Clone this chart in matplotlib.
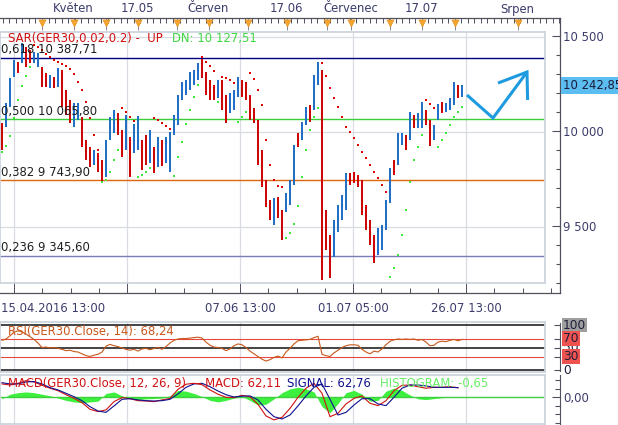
import numpy as np
import matplotlib
matplotlib.use("Agg")
import matplotlib.pyplot as plt
from matplotlib.transforms import blended_transform_factory as btf
from matplotlib.ticker import FixedLocator, NullFormatter

# ---------------- data ----------------
high = [10045, 10150, 10282, 10376, 10366, 10466, 10445, 10429, 10418, 10413,
        10339, 10308, 10297, 10287, 10334, 10324, 10218, 10166, 10150, 10150,
        10076, 9955, 9918, 9903, 9887, 9850, 9955, 10076, 10113, 10097,
        10008, 10087, 9971, 10040, 10082, 9955, 9982, 10008, 9918, 9971,
        9955, 9971, 9997, 10087, 10192, 10260, 10271, 10313, 10324, 10360,
        10382, 10313, 10271, 10245, 10271, 10271, 10192, 10203, 10218, 10287,
        10271, 10260, 10192, 10124, 10061, 9903, 9745, 9639, 9650, 9655,
        9587, 9676, 9745, 9929, 9992, 10050, 10129, 10139, 10297, 10366,
        10324, 9587, 9455, 9534, 9613, 9666, 9782, 9782, 9787, 9771,
        9745, 9613, 9534, 9455, 9492, 9508, 9639, 9808, 9850, 9992,
        9992, 9982, 10103, 10087, 10097, 10155, 10113, 10061, 10034, 10145,
        10155, 10150, 10176, 10260, 10245, 10245]
low = [9903, 10024, 10129, 10287, 10308, 10360, 10339, 10360, 10360, 10339,
       10234, 10234, 10229, 10229, 10234, 10129, 10087, 10045, 10024, 10061,
       9918, 9850, 9813, 9824, 9787, 9739, 9760, 9955, 9992, 9982,
       9866, 9903, 9760, 9887, 9903, 9797, 9824, 9834, 9782, 9813,
       9818, 9834, 9787, 9982, 10034, 10166, 10192, 10218, 10245, 10271,
       10282, 10192, 10166, 10166, 10176, 10113, 10045, 10097, 10113, 10182,
       10182, 10166, 10061, 10045, 9824, 9708, 9603, 9534, 9508, 9545,
       9429, 9576, 9613, 9718, 9918, 9955, 10034, 10050, 10113, 10245,
       9218, 9376, 9229, 9339, 9471, 9534, 9587, 9718, 9729, 9708,
       9561, 9482, 9403, 9308, 9350, 9376, 9482, 9624, 9771, 9824,
       9929, 9903, 9955, 10018, 10018, 10018, 10034, 9924, 9955, 10061,
       10097, 10103, 10113, 10139, 10176, 10182]
direction = ("DUUUDUDDUU" "DDUDUDDDUU" "DDDUDDUUUD" "DUDUUDDUDU"
             "DUUUUUUUUU" "DDDDUDDUUU" "DDDDDDDDUD" "DUUUDUUDUU"
             "DDDUUUUDDD" "DDDDUUUUDU" "UDUDUUDDUU" "DUUUDU")
sar = [9892, 9924, 9976, 10071, 10166, 10239, 10292, 10339, 10455, 10445,
       10429, 10408, 10392, 10376, 10366, 10355, 10345, 10329, 10303, 10260,
       10218, 10155, 10071, 9982, 9903, 9734, 9745, 9787, 9850, 9903,
       10124, 10103, 10076, 10055, 9760, 9771, 9787, 9808, 10071, 10061,
       10045, 10029, 10013, 9766, 9866, 9945, 10040, 10113, 10182, 10245,
       10392, 10366, 10345, 10318, 10155, 10287, 10282, 10271, 10255, 10050,
       10076, 10103, 10308, 10276, 10218, 10139, 9955, 9824, 9745, 9713,
       9708, 9439, 9466, 9513, 9608, 9760, 9903, 10008, 10076, 10124,
       10360, 10292, 10229, 10176, 10129, 10076, 10024, 9997, 9966, 9929,
       9892, 9860, 9824, 9787, 9755, 9718, 9682, 9234, 9282, 9350,
       9455, 9587, 9734, 9850, 9918, 9982, 10166, 10145, 10124, 9918,
       9955, 9992, 10034, 10076, 10103, 10128]
rsi = [66, 69, 76, 84, 87, 85, 80, 74, 68, 60,
       50, 51, 49, 50, 48, 46, 43, 44, 41, 40,
       36, 32, 30, 33, 35, 40, 53, 57, 54, 52,
       49, 46, 44, 46, 42, 47, 48, 45, 48, 50,
       46, 52, 60, 66, 69, 70, 70, 71, 72, 73,
       71, 62, 55, 51, 50, 48, 43, 47, 54, 58,
       56, 50, 42, 36, 30, 24, 20, 23, 28, 31,
       27, 40, 48, 58, 65, 66, 67, 68, 72, 75,
       35, 32, 30, 38, 44, 50, 54, 56, 56, 55,
       46, 40, 36, 42, 40, 47, 56, 64, 67, 69,
       68, 69, 68, 69, 66, 68, 62, 54, 55, 62,
       64, 63, 66, 68, 65, 68]
macd = [87, 80, 91, 108, 100, 78, 59, 43, 17, -7,
        -35, -78, -93, -82, -28, -2, -9, -22, -24, -28,
        -17, -7, 52, 85, 91, 82, 48, 20, 0, -2,
        13, 4, -46, -121, -147, -130, -72, 0, 59, 91,
        26, -126, -104, -43, -7, 9, -39, -54, -22, 43,
        78, 80, 69, 59, 65, 65, 69, 62]
signal = [95, 87, 87, 100, 102, 87, 63, 48, 26, 4,
          -22, -61, -89, -98, -56, -13, -9, -17, -22, -24,
          -22, -13, 22, 65, 87, 91, 69, 41, 17, 2,
          7, 9, -17, -78, -126, -141, -115, -56, 9, 65,
          87, -13, -115, -98, -50, -9, -9, -43, -54, 0,
          59, 80, 80, 74, 65, 65, 65, 63]
histogram = [-10, 20, 30, 35, 30, 20, 10, -5, -20, -30,
             -35, -30, -25, 25, 35, 10, -10, -15, -10, -8,
             -5, 10, 45, 40, 25, 5, -20, -30, -20, -5,
             5, -20, -50, -45, -10, 30, 55, 65, 55, 35,
             -60, -100, -40, 30, 45, 20, -25, -20, 40, 60,
             45, 15, -10, -15, -8, -3, 2, 0]
last_price = 10242.85
fib_ratio = ["0,618", "0,500", "0,382", "0,236"]
fib_level = [10387.71, 10065.80, 9743.90, 9345.60]
price_ticks = [9500, 10000, 10500]
grid_pos = [3, 31.25, 59.5, 87.75, 116]
date_labels = ["15.04.2016 13:00", "07.06 13:00", "01.07 05:00", "26.07 13:00"]
date_pos = [3, 59.5, 87.75, 116]
month_labels = ["Květen", "17.05", "Červen", "17.06", "Červenec", "17.07", "Srpen"]
month_pos = [17.75, 33.75, 51.5, 71.0, 87.25, 104.75, 128.75]
week_marks = [10, 18, 26, 34, 43.75, 51.75, 61.5, 71.25, 81.25, 87.25, 97, 105, 113.25, 129]
arrow_x = [116.25, 122.75, 131.25]
arrow_y = [10192, 10071, 10313]
arrow_head_x = [124.0, 131.25, 131.4]
arrow_head_y = [10255, 10313, 10166]

# ---------------- layout helpers ----------------
W, H = 618, 425
fig = plt.figure(figsize=(W / 100, H / 100), dpi=100)
plt.rcParams['font.family'] = ['DejaVu Sans']
FS = 8.4
TXT = '#3c3c6c'
BORDER = '#cdd4dc'
GRID = '#d8dde3'
PPU = 95 / 500.0  # pixels per price unit in main panel


def add_px(x0, y0, x1, y1):
    return fig.add_axes([x0 / W, 1 - y1 / H, (x1 - x0) / W, (y1 - y0) / H])


def pxi(px):
    return (px - 2) / 4.0


def P(y):
    return 10000 + (131.5 - y) / PPU


def thou(v):
    return f"{int(round(v)):,}".replace(",", " ")


def dec2(v):
    return f"{v:,.2f}".replace(",", " ").replace(".", ",")


XL = (pxi(0), pxi(545))
idx = np.arange(len(high))

# ---------------- frame with rulers and price axis ----------------
axf = add_px(0, 18, 560, 293)
axf.patch.set_visible(False)
axf.set_xlim(pxi(0), pxi(560))
axf.set_ylim(P(293), P(18))
axf.spines['left'].set_visible(False)
for s in ['top', 'right', 'bottom']:
    axf.spines[s].set_color('#50505e')
    axf.spines[s].set_linewidth(0.9)
axf.set_xticks([])
axf.yaxis.tick_right()
axf.yaxis.set_major_locator(FixedLocator(price_ticks))
axf.yaxis.set_minor_locator(FixedLocator(list(range(9200, 10600, 100))))
axf.yaxis.set_minor_formatter(NullFormatter())
axf.set_yticklabels([thou(v) for v in price_ticks])
axf.tick_params(axis='y', which='major', direction='in', length=5.5, width=0.8,
                color='#50505e', labelsize=FS, labelcolor=TXT, pad=2.5)
axf.tick_params(axis='y', which='minor', direction='in', length=3, width=0.8, color='#50505e')
trf = btf(axf.transData, axf.transAxes)
fh = 275.0
day_ticks = np.arange(pxi(42) - 6 * 1.6375, pxi(560), 1.6375)
axf.vlines(day_ticks, 1 - 5 / fh, 1, transform=trf, color='#50505e', lw=0.7)
axf.vlines(week_marks, 1 - 12 / fh, 1, transform=trf, color='#8a8a96', lw=0.7)
axf.scatter(week_marks, [1 - 4.5 / fh] * len(week_marks), marker='v', s=26,
            color='#f5a531', edgecolors='#e08a10', linewidths=0.4, transform=trf,
            zorder=5, clip_on=False)
for lab, pos in zip(month_labels, month_pos):
    axf.text(pos, 1 + 9 / fh, lab, transform=trf, ha='center', va='center',
             fontsize=FS, color=TXT)
minor_b = np.arange(grid_pos[0], pxi(560), 7.0625)
axf.vlines(minor_b, 0, 5 / fh, transform=trf, color='#50505e', lw=0.7)
axf.vlines(grid_pos, 0, 11 / fh, transform=trf, color='#50505e', lw=0.7)
for k, (lab, pos) in enumerate(zip(date_labels, date_pos)):
    if k == 0:
        axf.text(pxi(1), -15 / fh, lab, transform=trf, ha='left', va='center',
                 fontsize=FS, color=TXT)
    else:
        axf.text(pos, -15 / fh, lab, transform=trf, ha='center', va='center',
                 fontsize=FS, color=TXT)
axf.annotate(dec2(last_price), xy=(1, last_price),
             xycoords=btf(axf.transAxes, axf.transData), xytext=(2.2, 0),
             textcoords='offset points', va='center', ha='left', fontsize=FS,
             color='#1a1a3a', annotation_clip=False,
             bbox=dict(boxstyle='square,pad=0.18', fc='#5bbdf0', ec='none'))

# ---------------- main price panel ----------------
ax = add_px(0, 32, 545, 283)
ax.set_xlim(XL)
ax.set_ylim(P(283), P(32))
ax.set_xticks([])
ax.set_yticks([])
for s in ax.spines.values():
    s.set_color(BORDER)
    s.set_linewidth(1.3)
for g in grid_pos:
    ax.axvline(g, color=GRID, lw=0.9, zorder=0)
for p in price_ticks:
    ax.axhline(p, color=GRID, lw=0.9, zorder=0)
fib_colors = ['#000080', '#3ccc3c', '#e0650f', '#7b7bb8']
for r, lvl, c in zip(fib_ratio, fib_level, fib_colors):
    ax.axhline(lvl, color=c, lw=1.0, zorder=2)
    ax.annotate(f"{r} {dec2(lvl)}", xy=(0, lvl),
                xycoords=btf(ax.transAxes, ax.transData), xytext=(0.8, 1.0),
                textcoords='offset points', fontsize=FS, color='#1e1e1e',
                va='bottom', ha='left', zorder=7)
bar_cols = ['#1c6cc4' if d == 'U' else '#cc0000' for d in direction]
ax.vlines(idx, low, high, colors=bar_cols, lw=1.4, zorder=3)
sar_a = np.array(sar, float)
mid = (np.array(high) + np.array(low)) / 2.0
above = sar_a > mid
ax.scatter(idx[above], sar_a[above], marker='s', s=3.0, c='#e00000', lw=0, zorder=4)
ax.scatter(idx[~above], sar_a[~above], marker='s', s=3.0, c='#3ee63e', lw=0, zorder=4)
ax.plot(arrow_x, arrow_y, color='#1e9be0', lw=2.2, solid_capstyle='butt',
        solid_joinstyle='miter', zorder=5)
ax.plot(arrow_head_x, arrow_head_y, color='#1e9be0', lw=2.2, solid_capstyle='butt',
        solid_joinstyle='miter', zorder=5)
ax.annotate("SAR(GER30,0.02,0.2) -  UP", xy=(0, 1), xycoords='axes fraction',
            xytext=(5.8, -4.6), textcoords='offset points', fontsize=FS,
            color='#d01010', va='center', ha='left', zorder=8)
ax.annotate("DN: " + dec2(10127.51), xy=(0, 1), xycoords='axes fraction',
            xytext=(123.8, -4.6), textcoords='offset points', fontsize=FS,
            color='#40d840', va='center', ha='left', zorder=8)

# ---------------- RSI panel ----------------
axr = add_px(0, 322, 545, 372)
axr.set_xlim(XL)
axr.set_ylim(-4.4, 106.7)
axr.set_xticks([])
axr.set_yticks([])
for s in axr.spines.values():
    s.set_color(BORDER)
    s.set_linewidth(1.3)
for g in grid_pos:
    axr.axvline(g, color=GRID, lw=0.9, zorder=0)
for lv in [100, 50, 0]:
    axr.axhline(lv, color='#111111', lw=1.1, zorder=1)
for lv in [70, 30]:
    axr.axhline(lv, color='#e8473f', lw=0.8, zorder=1)
axr.plot(idx, rsi, color='#c8581a', lw=0.8, zorder=3)
axr.annotate("RSI(GER30.Close, 14): 68,24", xy=(0, 1), xycoords='axes fraction',
             xytext=(5.8, -6.5), textcoords='offset points', fontsize=FS,
             color='#c8581a', va='center', ha='left', zorder=5)

axrr = add_px(545, 322, 560, 372)
axrr.patch.set_visible(False)
axrr.set_xlim(0, 1)
axrr.set_ylim(-4.4, 106.7)
for s in ['left', 'top', 'bottom']:
    axrr.spines[s].set_visible(False)
axrr.spines['right'].set_color('#50505e')
axrr.spines['right'].set_bounds(-2, 104)
axrr.set_xticks([])
axrr.yaxis.tick_right()
axrr.set_yticks([0, 30, 50, 70, 100])
axrr.set_yticklabels([])
axrr.tick_params(axis='y', direction='in', length=4, width=0.8, color='#50505e')
rsi_labels = [(50, '50', None), (100, '100', '#9e9e9e'), (70, '70', '#ef5350'),
              (30, '30', '#ef5350'), (0, '0', None)]
trr = btf(axrr.transAxes, axrr.transData)
for lv, lab, fc in rsi_labels:
    kw = {}
    if fc:
        kw['bbox'] = dict(boxstyle='square,pad=0.08', fc=fc, ec='none')
    axrr.annotate(lab, xy=(1, lv), xycoords=trr, xytext=(2.2, 0),
                  textcoords='offset points', va='center', ha='left', fontsize=FS + 0.4,
                  color='#1e1e3a', annotation_clip=False, **kw)

# ---------------- MACD panel ----------------
axm = add_px(0, 375, 545, 424)
axm.set_xlim(XL)
axm.set_ylim(-173.5, 145)
axm.set_xticks([])
axm.set_yticks([])
for s in axm.spines.values():
    s.set_color(BORDER)
    s.set_linewidth(1.3)
for g in grid_pos:
    axm.axvline(g, color=GRID, lw=0.9, zorder=0)
mi = np.arange(0, len(high), 2)
axm.fill_between(mi, 0, histogram, color='#3df03d', lw=0, zorder=1)
axm.axhline(0, color='#3ecf3e', lw=1.0, zorder=2)
axm.plot(mi, macd, color='#d01010', lw=0.8, zorder=3)
axm.plot(mi, signal, color='#101090', lw=0.8, zorder=3)
axm.annotate("MACD(GER30.Close, 12, 26, 9) — MACD: 62,11", xy=(0, 1),
             xycoords='axes fraction', xytext=(5.8, -5.8), textcoords='offset points',
             fontsize=FS, color='#d01010', va='center', ha='left', zorder=5)
axm.annotate("SIGNAL: 62,76", xy=(0, 1), xycoords='axes fraction',
             xytext=(206.5, -5.8), textcoords='offset points', fontsize=FS,
             color='#101090', va='center', ha='left', zorder=5)
axm.annotate("HISTOGRAM: -0,65", xy=(0, 1), xycoords='axes fraction',
             xytext=(273.5, -5.8), textcoords='offset points', fontsize=FS,
             color='#66ee66', va='center', ha='left', zorder=5)

axmr = add_px(545, 375, 560, 424)
axmr.patch.set_visible(False)
axmr.set_xlim(0, 1)
axmr.set_ylim(-173.5, 145)
for s in ['left', 'top', 'bottom']:
    axmr.spines[s].set_visible(False)
axmr.spines['right'].set_color('#50505e')
axmr.set_xticks([])
axmr.yaxis.tick_right()
axmr.set_yticks([0])
axmr.set_yticklabels(['0,00'])
axmr.yaxis.set_minor_locator(FixedLocator([-165, -110, -55, 55, 110]))
axmr.tick_params(axis='y', which='major', direction='in', length=5.5, width=0.8,
                 color='#50505e', labelsize=FS, labelcolor=TXT, pad=2.5)
axmr.tick_params(axis='y', which='minor', direction='in', length=3.5, width=0.8,
                 color='#50505e')

fig.savefig("out.png", dpi=100, facecolor='white')
